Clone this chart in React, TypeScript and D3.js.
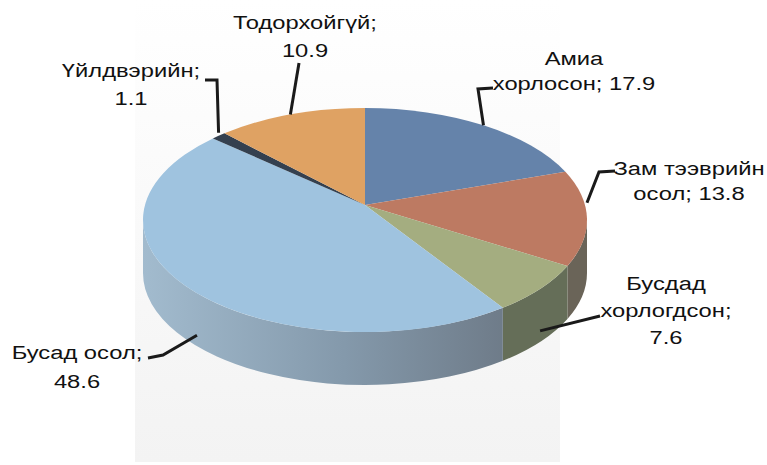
import React from 'react';
import * as d3 from 'd3';

// Data (clockwise from 12 o'clock)
const categories = ['Амиа хорлосон', 'Зам тээврийн осол', 'Бусдад хорлогдсон', 'Бусад осол', 'Үйлдвэрийн', 'Тодорхойгүй'];
const values = [17.9, 13.8, 7.6, 48.6, 1.1, 10.9];
const labelLines = [
  ['Амиа', 'хорлосон; 17.9'],
  ['Зам тээврийн', 'осол; 13.8'],
  ['Бусдад', 'хорлогдсон;', '7.6'],
  ['Бусад осол;', '48.6'],
  ['Үйлдвэрийн;', '1.1'],
  ['Тодорхойгүй;', '10.9'],
];

const topColors = ['#6583aa', '#bd7a62', '#a4ad80', '#9fc3df', '#34404f', '#dfa263'];
const sideColors = ['#4f6785', '#6a6458', '#656e58', 'url(#blueSide)', '#2a3440', '#b07c48'];

// layout of the labels (text anchor + leader polyline start/elbow, end on slice)
const labelLayout = [
  { x: 574, y: 65, lh: 25, leader: [[493, 88], [478, 89]], sideDy: 0 },
  { x: 689, y: 175, lh: 25, leader: [[615, 171], [599, 172]], sideDy: -16 },
  { x: 666, y: 290, lh: 27, leader: [[600, 316]], sideDy: 42 },
  { x: 77, y: 359, lh: 29, leader: [[148, 358], [163, 355]], sideDy: 42 },
  { x: 131, y: 77, lh: 28, leader: [[205, 80], [217, 80]], sideDy: -3 },
  { x: 305, y: 29, lh: 28, leader: [[299, 63]], sideDy: 0 },
];

const W = 767;
const H = 465;
const cx = 365;
const cy = 220;
const rx = 222;
const ry = 112;
const depth = 53;
const apex = [365, 205];

const pt = (a: number, dy = 0): [number, number] => [cx + rx * Math.sin(a), cy - ry * Math.cos(a) + dy];

export default function App() {
  const pie = d3.pie<number>().sort(null).startAngle(0).endAngle(2 * Math.PI);
  const arcs = pie(values);

  const topPath = (a0: number, a1: number) => {
    const p0 = pt(a0);
    const p1 = pt(a1);
    const large = a1 - a0 > Math.PI ? 1 : 0;
    return `M${apex[0]},${apex[1]}L${p0[0]},${p0[1]}A${rx},${ry} 0 ${large} 1 ${p1[0]},${p1[1]}Z`;
  };

  const sidePath = (a0: number, a1: number) => {
    const s0 = Math.max(a0, Math.PI / 2);
    const s1 = Math.min(a1, (3 * Math.PI) / 2);
    if (s1 <= s0) return null;
    const p0 = pt(s0);
    const p1 = pt(s1);
    const q1 = pt(s1, depth);
    const q0 = pt(s0, depth);
    return `M${p0[0]},${p0[1]}A${rx},${ry} 0 0 1 ${p1[0]},${p1[1]}L${q1[0]},${q1[1]}A${rx},${ry} 0 0 0 ${q0[0]},${q0[1]}Z`;
  };

  return (
    <div style={{ position: 'absolute', left: 0, top: 0 }}>
      <svg width={W} height={H} style={{ display: 'block', background: '#fff' }}>
        <defs>
          <linearGradient id="bg" x1="0" y1="0" x2="0" y2="1">
            <stop offset="0" stopColor="#ffffff" />
            <stop offset="1" stopColor="#f3f3f3" />
          </linearGradient>
          <linearGradient id="blueSide" x1="143" y1="0" x2="590" y2="0" gradientUnits="userSpaceOnUse">
            <stop offset="0" stopColor="#a2bbce" />
            <stop offset="0.45" stopColor="#8499ab" />
            <stop offset="0.85" stopColor="#6c7885" />
            <stop offset="1" stopColor="#626c74" />
          </linearGradient>
        </defs>
        <rect x={135} y={0} width={425} height={462} fill="url(#bg)" />

        {arcs.map((d, i) => {
          const p = sidePath(d.startAngle, d.endAngle);
          return p ? <path key={'s' + i} d={p} fill={sideColors[i]} /> : null;
        })}
        {arcs.map((d, i) => (
          <path key={'t' + i} d={topPath(d.startAngle, d.endAngle)} fill={topColors[i]} />
        ))}

        {arcs.map((d, i) => {
          const L = labelLayout[i];
          const mid = (d.startAngle + d.endAngle) / 2;
          const end = pt(mid, L.sideDy);
          const pts = [...L.leader, end];
          return (
            <polyline
              key={'l' + i}
              points={pts.map((q) => q.join(',')).join(' ')}
              fill="none"
              stroke="#1a1a1a"
              strokeWidth={3}
            />
          );
        })}

        {labelLines.map((lines, i) => {
          const L = labelLayout[i];
          return (
            <g key={'x' + i} transform={`translate(${L.x},${L.y}) scale(1.32,1)`}>
              {lines.map((t, j) => (
                <text
                  key={j}
                  x={0}
                  y={j * L.lh}
                  textAnchor="middle"
                  fontFamily="'Liberation Sans', Arial, sans-serif"
                  fontSize={18}
                  fill="#111"
                >
                  {t}
                </text>
              ))}
            </g>
          );
        })}
      </svg>
    </div>
  );
}
